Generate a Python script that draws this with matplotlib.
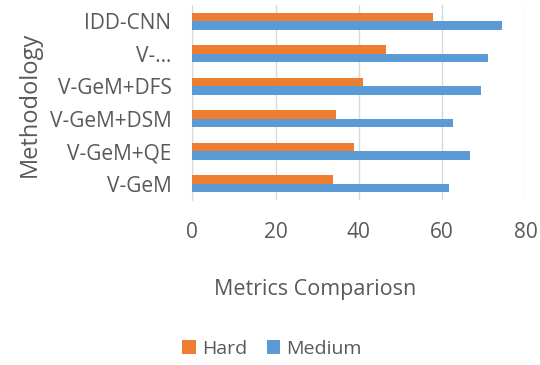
import matplotlib.pyplot as plt
import numpy as np

# categories listed bottom to top, as drawn
methods = ["V-GeM", "V-GeM+QE", "V-GeM+DSM", "V-GeM+DFS", "V-\u2026", "IDD-CNN"]
hard = [33.7, 38.8, 34.6, 41.1, 46.6, 57.8]
medium = [61.6, 66.7, 62.7, 69.4, 70.9, 74.4]
xticks = [0, 20, 40, 60, 80]

plt.rcParams['font.family'] = ['Open Sans', 'DejaVu Sans']
grey = "#595959"

fig = plt.figure(figsize=(5.4, 3.65), dpi=100)
ax = fig.add_axes([0.356, 0.452, 0.617, 0.534])

y = np.arange(len(methods))
h = 0.26
ax.barh(y + h / 2, hard, height=h, color="#ED7D31", label="Hard", zorder=3)
ax.barh(y - h / 2, medium, height=h, color="#5B9BD5", label="Medium", zorder=3)

ax.set_xlim(0, 80)
ax.set_ylim(-0.5, len(methods) - 0.5)
ax.set_xticks(xticks)
ax.set_yticks(y)
ax.set_yticklabels(methods)
ax.tick_params(axis="both", length=0, colors=grey)
ax.tick_params(axis="x", pad=16, labelsize=15)
ax.tick_params(axis="y", pad=15, labelsize=15)
ax.grid(axis="x", color="#d9d9d9", linewidth=1, zorder=0)
for s in ["top", "right", "bottom"]:
    ax.spines[s].set_visible(False)
ax.spines["left"].set_color("#d9d9d9")

fig.text(30 / 540, 1 - 104 / 365, "Methodology", fontsize=17, color=grey,
         rotation=90, ha="center", va="center")
fig.text(315 / 540, 1 - 289 / 365, "Metrics Compariosn", fontsize=15.5,
         color=grey, ha="center", va="center")

fig.legend(loc="center", bbox_to_anchor=(272 / 540, 1 - 349 / 365), ncol=2,
           frameon=False, fontsize=14, labelcolor=grey, handlelength=0.7,
           handleheight=0.7, handletextpad=0.3, columnspacing=1.0)

fig.savefig("out.png", dpi=100)
